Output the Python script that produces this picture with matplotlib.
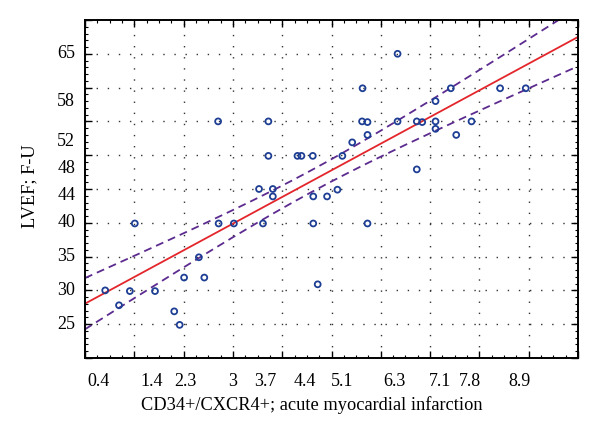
import numpy as np
import matplotlib
matplotlib.use("Agg")
import matplotlib.pyplot as plt
from matplotlib.ticker import MultipleLocator

plt.rcParams['font.family'] = ['Liberation Serif', 'DejaVu Serif']

# scatter data: CD34+/CXCR4+ (x) vs LVEF F-U (y)
x_vals = [2.70, 3.72, 3.72, 4.31, 4.39, 4.62,
          6.34, 5.63, 7.42, 8.42, 8.94, 7.11, 5.62, 5.73, 6.34, 6.73, 6.84,
          7.11, 7.11, 7.84, 5.73, 7.53, 5.42, 5.22, 6.73,
          3.53, 3.81, 3.81, 4.63, 4.91, 5.12, 1.01, 2.71, 3.02, 3.61, 4.63,
          2.31, 2.01, 2.42, 4.72, 0.41, 0.91, 1.42, 0.69, 1.81, 1.92, 5.73]
y_vals = [55.0, 55.0, 49.9, 49.9, 49.9, 49.9,
          65.0, 59.9, 59.9, 59.9, 59.9, 58.0, 55.0, 54.9, 55.0, 55.0, 54.9,
          55.0, 53.9, 55.0, 53.0, 53.0, 51.9, 49.9, 47.9,
          45.0, 45.0, 43.9, 43.9, 43.9, 44.9, 39.9, 39.9, 39.9, 39.9, 39.9,
          34.9, 31.9, 31.9, 30.9, 30.0, 29.9, 29.9, 27.8, 26.9, 24.9, 39.9]

x_tick_labels = ['0.4', '1.4', '2.3', '3', '3.7', '4.4', '5.1', '6.3', '7.1', '7.8', '8.9']
x_tick_pos = [0.28, 1.36, 2.03, 3.0, 3.65, 4.46, 5.21, 6.27, 7.2, 7.81, 8.82]
y_tick_labels = ['25', '30', '35', '40', '44', '48', '52', '58', '65']
y_tick_pos = [25, 30, 35, 40, 44, 48, 52, 58, 65]

x = np.array(x_vals)
y = np.array(y_vals)
n = len(x)
b, a = np.polyfit(x, y, 1)
resid = y - (a + b * x)
s = np.sqrt(np.sum(resid**2) / (n - 2))
xbar = x.mean()
sxx = np.sum((x - xbar)**2)
xs = np.linspace(0, 10, 200)
fit = a + b * xs
half = 1.8 * s * np.sqrt(1.0 / n + (xs - xbar)**2 / sxx)

fig = plt.figure(figsize=(6.0, 4.34), dpi=100)
ax = fig.add_axes([85/600, 1 - 358/434, (578 - 85)/600, (358 - 20)/434])
ax.set_xlim(0, 10)
ax.set_ylim(20, 70)

grid_kw = dict(color='#333333', lw=1.0, linestyle=(0, (1, 7)), zorder=0)
for gx in range(1, 10):
    ax.axvline(gx, **grid_kw)
for gy in range(25, 70, 5):
    ax.axhline(gy, **grid_kw)

ax.plot(xs, fit, color='#e3262b', lw=1.3, zorder=2)
ax.plot(xs, fit + half, color='#5c2b8f', lw=1.3, dashes=(4.4, 2.8), zorder=2)
ax.plot(xs, fit - half, color='#5c2b8f', lw=1.3, dashes=(4.4, 2.8), zorder=2)
ax.scatter(x, y, s=18, facecolors='none', edgecolors='#1d3e94', linewidths=1.3, zorder=3)

ax.xaxis.set_major_locator(MultipleLocator(1))
ax.xaxis.set_minor_locator(MultipleLocator(0.25))
ax.yaxis.set_major_locator(MultipleLocator(5))
ax.yaxis.set_minor_locator(MultipleLocator(1))
ax.tick_params(which='both', direction='in', top=True, right=True,
               labelbottom=False, labelleft=False, color='black')
ax.tick_params(which='major', length=5, width=1.0)
ax.tick_params(which='minor', length=2.5, width=0.8)
for sp in ax.spines.values():
    sp.set_linewidth(1.4)

for pos, lab in zip(x_tick_pos, x_tick_labels):
    ax.text(pos, -0.045, lab, transform=ax.get_xaxis_transform(),
            ha='center', va='top', fontsize=13)
for pos, lab in zip(y_tick_pos, y_tick_labels):
    ax.text(-0.02, pos, lab, transform=ax.get_yaxis_transform(),
            ha='right', va='center', fontsize=13)

fig.text(312/600, 1 - 405/434, 'CD34+/CXCR4+; acute myocardial infarction',
         ha='center', va='center', fontsize=13.2)
fig.text(30/600, 1 - 186/434, 'LVEF; F-U', rotation=90,
         ha='center', va='center', fontsize=13.2)

fig.savefig('out.png', dpi=100)
